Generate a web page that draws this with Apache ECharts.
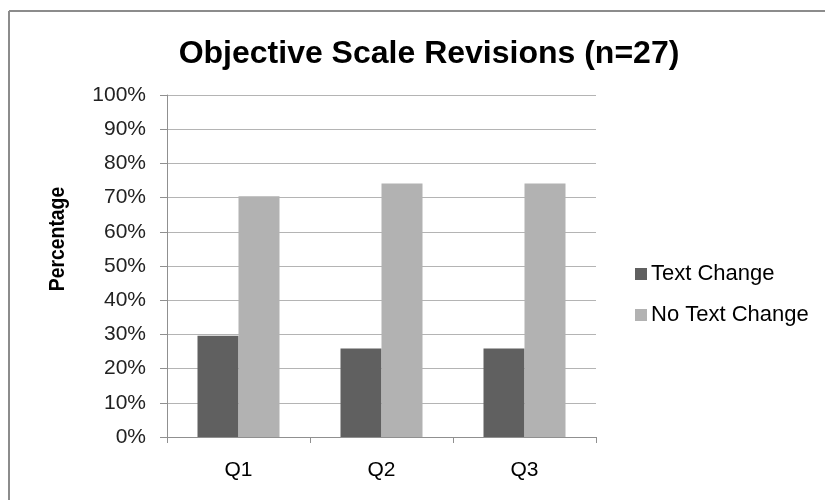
<!DOCTYPE html>
<html>
<head>
<meta charset="utf-8">
<script src="https://cdn.jsdelivr.net/npm/echarts@6/dist/echarts.min.js"></script>
<style>
  html, body { margin: 0; padding: 0; background: #fff; }
  #chart { width: 825px; height: 500px; }
</style>
</head>
<body>
<div id="chart"></div>
<script>
// Questions on the x axis
const categories = ['Q1', 'Q2', 'Q3'];
// Share of items per question (percent of n=27)
const textChange = [29.6, 25.9, 25.9];
const noTextChange = [70.4, 74.1, 74.1];
const seriesNames = ['Text Change', 'No Text Change'];
const yAxisTitle = 'Percentage';

const FONT = '"Liberation Sans", Arial, sans-serif';
const chart = echarts.init(document.getElementById('chart'), null, { renderer: 'canvas' });

chart.setOption({
  backgroundColor: '#fff',
  animation: false,
  title: {
    text: 'Objective Scale Revisions (n=27)',
    left: 424,
    textAlign: 'center',
    top: 33,
    textStyle: { fontFamily: FONT, fontSize: 32, fontWeight: 'bold', color: '#000' }
  },
  graphic: [
    // frame lines along the top and left edge
    { type: 'line', shape: { x1: 9, y1: 11, x2: 825, y2: 11 }, style: { stroke: '#8c8c8c', lineWidth: 2 } },
    { type: 'line', shape: { x1: 9, y1: 11, x2: 9, y2: 500 }, style: { stroke: '#8c8c8c', lineWidth: 2 } },
    // value axis title, slightly condensed along its run
    {
      type: 'text',
      x: 58,
      y: 239,
      rotation: Math.PI / 2,
      scaleX: 0.88,
      style: {
        text: yAxisTitle,
        align: 'center',
        verticalAlign: 'middle',
        font: 'bold 22px ' + FONT,
        fill: '#000'
      }
    }
  ],
  legend: {
    orient: 'vertical',
    left: 630,
    top: 258,
    itemGap: 19,
    itemWidth: 12,
    itemHeight: 12,
    icon: 'rect',
    data: seriesNames,
    textStyle: { fontFamily: FONT, fontSize: 22, lineHeight: 22, color: '#000', padding: [0, 0, 0, -1] }
  },
  grid: { left: 167, right: 229, top: 95, bottom: 63 },
  xAxis: {
    type: 'category',
    data: categories,
    axisLine: { lineStyle: { color: '#909090', width: 1 } },
    axisTick: { show: true, length: 6, lineStyle: { color: '#909090' } },
    axisLabel: { fontFamily: FONT, fontSize: 21, color: '#000', margin: 23 }
  },
  yAxis: {
    type: 'value',
    min: 0,
    max: 100,
    interval: 10,
    axisLine: { show: true, lineStyle: { color: '#909090', width: 1 } },
    axisTick: { show: true, length: 7, lineStyle: { color: '#909090' } },
    axisLabel: { fontFamily: FONT, fontSize: 21, color: '#222', margin: 21, formatter: '{value}%' },
    splitLine: { lineStyle: { color: '#b4b4b4', width: 1 } }
  },
  series: [
    {
      name: seriesNames[0],
      type: 'bar',
      data: textChange,
      barWidth: 41,
      barGap: '0%',
      itemStyle: { color: '#606060' }
    },
    {
      name: seriesNames[1],
      type: 'bar',
      data: noTextChange,
      barWidth: 41,
      barGap: '0%',
      itemStyle: { color: '#b2b2b2' }
    }
  ]
});
</script>
</body>
</html>
